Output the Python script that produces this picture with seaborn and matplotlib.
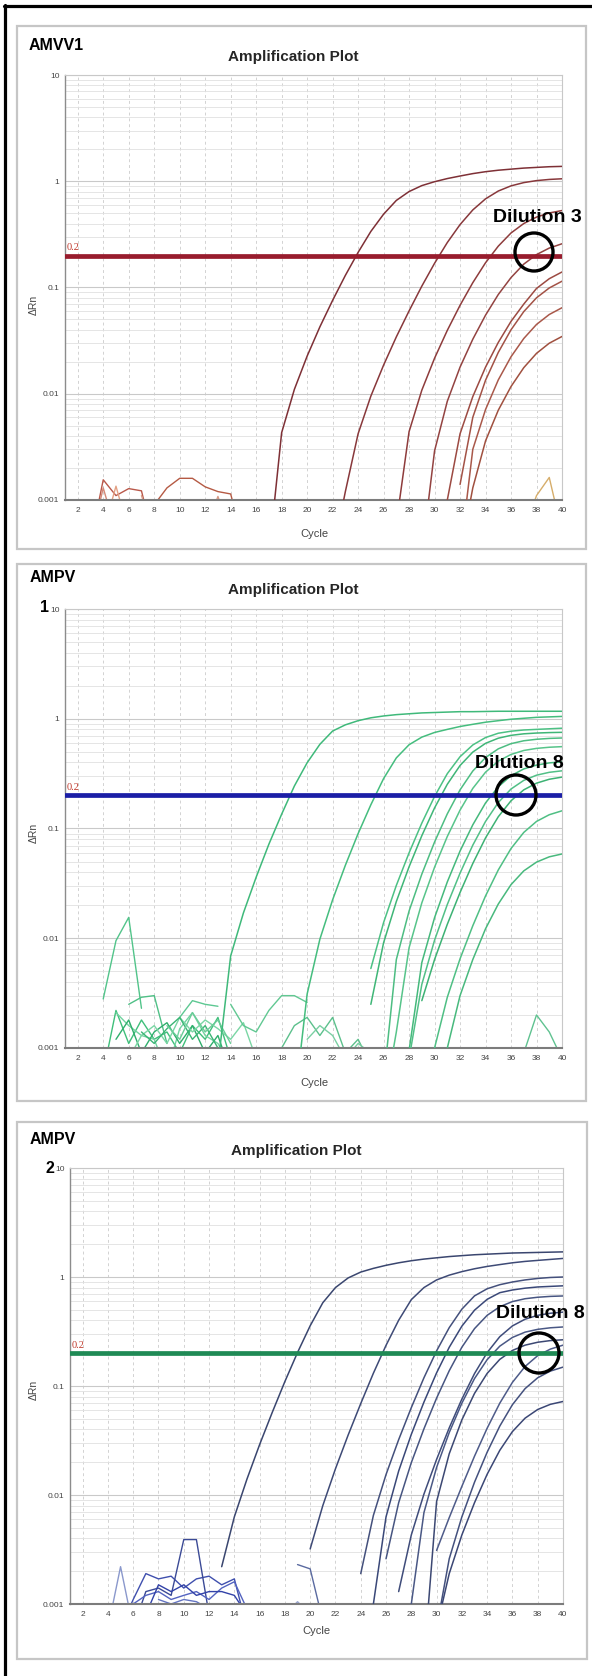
import matplotlib
matplotlib.use("Agg")
import matplotlib.pyplot as plt
import seaborn as sns
import pandas as pd
from matplotlib.patches import Rectangle, Circle
from matplotlib.lines import Line2D
from matplotlib.ticker import FixedLocator, FixedFormatter, LogLocator, NullFormatter

# ---------------- data (ΔRn read per cycle) ----------------
Y_TICKS = [0.001, 0.01, 0.1, 1, 10]
Y_TICK_LABELS = ["0.001", "0.01", "0.1", "1", "10"]
X_TICKS = list(range(2, 41, 2))
THRESHOLD = 0.2

# Panel 1 : AMVV1 amplification curves (first cycle of each list)
P1_STARTS = [17, 22, 27, 29, 30, 32, 32, 32]
P1_A = [0.0003, 0.0043, 0.011, 0.0226, 0.0426, 0.0757, 0.130, 0.214, 0.337, 0.49, 0.66, 0.80,
        0.91, 0.99, 1.06, 1.12, 1.18, 1.23, 1.27, 1.30, 1.33, 1.35, 1.37, 1.38]
P1_B = [0.0003, 0.0012, 0.0042, 0.0095, 0.0186, 0.0343, 0.0602, 0.103, 0.169, 0.265, 0.391,
        0.537, 0.683, 0.809, 0.905, 0.971, 1.014, 1.040, 1.055]
P1_C = [0.0006, 0.0044, 0.0108, 0.0216, 0.0395, 0.068, 0.111, 0.171, 0.245, 0.326, 0.40, 0.46, 0.503, 0.53]
P1_D = [0.0003, 0.0029, 0.0085, 0.0178, 0.0326, 0.0549, 0.0859, 0.124, 0.166, 0.204, 0.235, 0.258]
P1_E = [0.0003, 0.001, 0.0042, 0.0094, 0.0178, 0.0304, 0.048, 0.0698, 0.098, 0.121, 0.14]
P1_F = [0.0014, 0.006, 0.0134, 0.0245, 0.040, 0.0593, 0.080, 0.099, 0.1146]
P1_G = [0.0003, 0.003, 0.0071, 0.0135, 0.0223, 0.0331, 0.0449, 0.0557, 0.0645]
P1_H = [0.0003, 0.0013, 0.0036, 0.007, 0.0117, 0.0176, 0.024, 0.0299, 0.0346]
# Panel 1 : background noise traces
P1_NOISE_STARTS = [3, 3, 4, 8, 7, 12, 37]
P1_N1 = [0.0004, 0.00155, 0.0011, 0.00128, 0.00122, 0.0004]
P1_N2 = [0.0004, 0.0013, 0.0005]
P1_N3 = [0.0005, 0.00135, 0.0005]
P1_N4 = [0.0009, 0.0013, 0.0016, 0.0016, 0.00133, 0.0012, 0.00114, 0.0004]
P1_N5 = [0.0011, 0.0005, 0.001]
P1_N6 = [0.0005, 0.00108, 0.0005]
P1_N7 = [0.0005, 0.0011, 0.00163, 0.0005]

# Panel 2 : AMPV1
P2_STARTS = [13, 19, 25, 25, 26, 26, 27, 28, 29, 30, 31]
P2_G1 = [0.0007, 0.0069, 0.017, 0.036, 0.072, 0.135, 0.244, 0.397, 0.585, 0.773, 0.88, 0.96, 1.02,
         1.06, 1.09, 1.11, 1.13, 1.14, 1.15, 1.16, 1.16, 1.165, 1.17, 1.17, 1.17, 1.17, 1.17, 1.17]
P2_G2 = [0.0003, 0.0031, 0.0098, 0.0224, 0.0462, 0.0898, 0.1645, 0.285, 0.44, 0.58, 0.68, 0.75,
         0.80, 0.85, 0.89, 0.93, 0.96, 0.99, 1.01, 1.03, 1.04, 1.05]
P2_G3 = [0.0053, 0.0139, 0.0303, 0.060, 0.112, 0.196, 0.316, 0.451, 0.577, 0.674, 0.738, 0.77, 0.79, 0.80, 0.81, 0.82]
P2_G4 = [0.0025, 0.0091, 0.0216, 0.0448, 0.086, 0.154, 0.253, 0.375, 0.497, 0.597, 0.665, 0.706, 0.729, 0.741, 0.748, 0.752]
P2_G5 = [0.0005, 0.0064, 0.0177, 0.0384, 0.0753, 0.136, 0.225, 0.334, 0.443, 0.532, 0.593, 0.630, 0.650, 0.662, 0.668]
P2_G6 = [0.0003, 0.0014, 0.0082, 0.021, 0.0444, 0.0846, 0.147, 0.232, 0.326, 0.411, 0.473, 0.514, 0.537, 0.550, 0.557]
P2_G7 = [0.0003, 0.00095, 0.006, 0.0154, 0.0326, 0.0623, 0.108, 0.171, 0.240, 0.303, 0.349, 0.378, 0.396, 0.405]
P2_G8 = [0.0008, 0.0038, 0.0096, 0.0203, 0.0392, 0.0705, 0.116, 0.1725, 0.229, 0.2745, 0.306, 0.325, 0.3355]
P2_G9 = [0.0027, 0.0064, 0.0134, 0.0261, 0.048, 0.0821, 0.128, 0.179, 0.225, 0.259, 0.281, 0.294]
P2_G10 = [0.001, 0.0029, 0.0065, 0.013, 0.0243, 0.0419, 0.0657, 0.0921, 0.116, 0.1335, 0.145]
P2_G11 = [0.001, 0.003, 0.0064, 0.0122, 0.0205, 0.0308, 0.0411, 0.0494, 0.0552, 0.0586]
P2_NOISE_STARTS = [4, 4, 5, 6, 10, 5, 6, 14, 17, 20, 37, 7, 9]
P2_N1 = [0.0028, 0.0095, 0.0155, 0.0023]
P2_N2 = [0.0006, 0.0022, 0.0011, 0.0018, 0.0012, 0.0014, 0.0009, 0.0016, 0.0012, 0.0019, 0.0008]
P2_N3 = [0.0021, 0.0016, 0.0013, 0.0012, 0.0006, 0.0015, 0.0021, 0.0013, 0.0011, 0.0007]
P2_N4 = [0.0025, 0.0029, 0.003, 0.0011]
P2_N5 = [0.0019, 0.0027, 0.0025, 0.0024]
P2_N6 = [0.0012, 0.0018, 0.0009, 0.0014, 0.0017, 0.0011, 0.0016, 0.0009, 0.0013, 0.0006]
P2_N7 = [0.0008, 0.0013, 0.0016, 0.0011, 0.0019, 0.0014, 0.0018, 0.0015, 0.0012, 0.0017, 0.0008]
P2_N8 = [0.0025, 0.0016, 0.0014, 0.0022, 0.003, 0.003, 0.0026]
P2_N9 = [0.0008, 0.001, 0.0016, 0.0019, 0.0013, 0.0019, 0.0009, 0.0012, 0.0007]
P2_N10 = [0.0012, 0.0016, 0.0013, 0.0008, 0.0011, 0.0009]
P2_N11 = [0.0009, 0.002, 0.0014, 0.0008]
P2_N12 = [0.0014, 0.0011, 0.0015, 0.0019, 0.0012, 0.0016, 0.0010]
P2_N13 = [0.0016, 0.0012, 0.0021, 0.0014, 0.0018, 0.0011]

# Panel 3 : AMPV2
P3_STARTS = [13, 20, 24, 25, 26, 27, 27, 29, 30, 30, 30]
P3_B1 = [0.0022, 0.0063, 0.014, 0.029, 0.0573, 0.110, 0.203, 0.357, 0.581, 0.80, 0.98, 1.11, 1.20, 1.28,
         1.35, 1.41, 1.46, 1.50, 1.54, 1.57, 1.60, 1.62, 1.64, 1.66, 1.67, 1.68, 1.69, 1.70]
P3_B2 = [0.0032, 0.008, 0.0174, 0.0354, 0.069, 0.131, 0.236, 0.401, 0.62, 0.80, 0.94, 1.04, 1.12,
         1.19, 1.25, 1.30, 1.35, 1.39, 1.42, 1.45, 1.48]
P3_B3 = [0.0019, 0.0065, 0.0154, 0.0322, 0.0633, 0.119, 0.210, 0.343, 0.507, 0.671, 0.78, 0.85, 0.90, 0.94, 0.97, 0.99, 1.0]
P3_B4 = [0.001, 0.0063, 0.0166, 0.036, 0.0712, 0.132, 0.2265, 0.354, 0.496, 0.624, 0.718, 0.76, 0.79, 0.81, 0.82, 0.83]
P3_B5 = [0.0026, 0.0085, 0.0198, 0.0405, 0.0774, 0.138, 0.227, 0.336, 0.445, 0.534, 0.595, 0.632, 0.652, 0.664, 0.670]
P3_B6 = [0.0013, 0.0043, 0.0102, 0.0212, 0.0413, 0.0759, 0.130, 0.2025, 0.2835, 0.356, 0.410, 0.445, 0.465, 0.476]
P3_B7 = [0.0003, 0.001, 0.0069, 0.0179, 0.0374, 0.0696, 0.117, 0.1745, 0.232, 0.279, 0.312, 0.331, 0.342, 0.348]
P3_B8 = [0.0003, 0.0087, 0.0239, 0.0489, 0.0855, 0.1305, 0.1755, 0.212, 0.237, 0.252, 0.261, 0.2655]
P3_B9 = [0.0031, 0.0062, 0.012, 0.0227, 0.041, 0.0696, 0.108, 0.151, 0.190, 0.218, 0.237]
P3_B10 = [0.0006, 0.0026, 0.0063, 0.0131, 0.0247, 0.0429, 0.0674, 0.0946, 0.119, 0.137, 0.149]
P3_B11 = [0.0006, 0.0019, 0.0043, 0.0085, 0.0155, 0.0257, 0.0382, 0.0507, 0.0609, 0.0679, 0.0721]
P3_NOISE_STARTS = [4, 5, 6, 6, 7, 8, 19, 18]
P3_N1 = [0.0006, 0.0022, 0.0006]
P3_N2 = [0.0006, 0.0011, 0.0019, 0.0017, 0.0018, 0.0014, 0.0017, 0.0018, 0.0015, 0.0017, 0.0006]
P3_N3 = [0.0006, 0.0013, 0.0014, 0.0012, 0.0039, 0.0039, 0.0008]
P3_N4 = [0.001, 0.0012, 0.0013, 0.0011, 0.0012, 0.0013, 0.0011, 0.0014, 0.0016, 0.0009]
P3_N5 = [0.0008, 0.0015, 0.0013, 0.0015, 0.0012, 0.0013, 0.0013, 0.0012, 0.0008]
P3_N6 = [0.0011, 0.001, 0.0011, 0.00105, 0.0009]
P3_N7 = [0.0023, 0.0021, 0.0007]
P3_N8 = [0.0008, 0.00105, 0.0008]

# ---------------- styling ----------------
sns.set_theme(style="white")
SANS = ["Liberation Sans", "DejaVu Sans"]
plt.rcParams["font.family"] = SANS

W, H = 592, 1676
fig = plt.figure(figsize=(W / 100, H / 100), dpi=100)
fig.patch.set_facecolor("white")


def fx(x):
    return x / W


def fy(y):
    return 1 - y / H


def long_frame(starts, series, prefix):
    rows = []
    for i, (s, vals) in enumerate(zip(starts, series)):
        for k, v in enumerate(vals):
            rows.append({"curve": f"{prefix}{i}", "cycle": s + k, "drn": v})
    return pd.DataFrame(rows)


PANELS = [
    dict(box=(65, 75, 562, 500), frame=(17, 26, 586, 549),
         curves=(P1_STARTS, [P1_A, P1_B, P1_C, P1_D, P1_E, P1_F, P1_G, P1_H]),
         noise=(P1_NOISE_STARTS, [P1_N1, P1_N2, P1_N3, P1_N4, P1_N5, P1_N6, P1_N7]),
         ccols=["#7e3036", "#88383b", "#8e3c3c", "#934341", "#9c4a42", "#a35246", "#a9584a", "#a0503f"],
         ncols=["#b9584a", "#d48a78", "#e3a184", "#b55a44", "#d9a08a", "#d89a86", "#d6ad6a"],
         thr_col="#981c2d", title_xy=(293, 57), cycle_xy=(314, 534), drn_xy=(34, 305),
         labels=[("AMVV1", 29, 45, "left")], dil=("Dilution 3", 493, 218), circ=(534, 252, 19)),
    dict(box=(65, 609, 562, 1048), frame=(17, 564, 586, 1101),
         curves=(P2_STARTS, [P2_G1, P2_G2, P2_G3, P2_G4, P2_G5, P2_G6, P2_G7, P2_G8, P2_G9, P2_G10, P2_G11]),
         noise=(P2_NOISE_STARTS, [P2_N1, P2_N2, P2_N3, P2_N4, P2_N5, P2_N6, P2_N7, P2_N8, P2_N9, P2_N10,
                                  P2_N11, P2_N12, P2_N13]),
         ccols=["#3fb97a", "#45bd7e", "#4cc184", "#3fb677", "#4dbd82", "#57c48a", "#45b97c", "#52c087",
                "#3db274", "#4fbf84", "#48b97d"],
         ncols=["#52c48a", "#3fbf7a", "#72d3a0", "#4fc086", "#5dc892", "#2fae6c", "#7ad6a4", "#61c892",
                "#5cc08c", "#79cfa2", "#5fc290", "#3bb575", "#69cc97"],
         thr_col="#1b1ea6", title_xy=(293, 590), cycle_xy=(314, 1083), drn_xy=(34, 833),
         labels=[("AMPV", 30, 578, "left"), ("1", 49, 608, "right")], dil=("Dilution 8", 475, 763),
         circ=(516, 795, 20)),
    dict(box=(70, 1168, 563, 1604), frame=(17, 1122, 587, 1659),
         curves=(P3_STARTS, [P3_B1, P3_B2, P3_B3, P3_B4, P3_B5, P3_B6, P3_B7, P3_B8, P3_B9, P3_B10, P3_B11]),
         noise=(P3_NOISE_STARTS, [P3_N1, P3_N2, P3_N3, P3_N4, P3_N5, P3_N6, P3_N7, P3_N8]),
         ccols=["#3a466f", "#3e4a76", "#44507c", "#3a4878", "#475581", "#3f4c7a", "#4a5885", "#3c4873",
                "#4e5b89", "#44517e", "#3b4775"],
         ncols=["#8a98cc", "#3f4fae", "#3b4a96", "#5363c0", "#3242a8", "#6474c2", "#5a6aa0", "#9aa6d0"],
         thr_col="#1f8a55", title_xy=(296, 1151), cycle_xy=(316, 1631), drn_xy=(34, 1390),
         labels=[("AMPV", 30, 1139, "left"), ("2", 54, 1168, "right")], dil=("Dilution 8", 496, 1313),
         circ=(539, 1353, 20)),
]

for P in PANELS:
    # grey frame round each panel
    x0, y0, x1, y1 = P["frame"]
    fig.add_artist(Rectangle((fx(x0), fy(y1)), fx(x1) - fx(x0), fy(y0) - fy(y1),
                             transform=fig.transFigure, fill=False, ec="#c6c6c6", lw=1.6, zorder=0))
    l, t, r, b = P["box"]
    ax = fig.add_axes([fx(l), fy(b), fx(r) - fx(l), fy(t) - fy(b)])
    ax.set_yscale("log")
    ax.set_xlim(1, 40)
    ax.set_ylim(0.001, 10)

    ns, nv = P["noise"]
    dfn = long_frame(ns, nv, "n")
    sns.lineplot(data=dfn, x="cycle", y="drn", hue="curve", palette=P["ncols"], estimator=None,
                 legend=False, ax=ax, lw=1.0, zorder=2)
    cs, cv = P["curves"]
    dfc = long_frame(cs, cv, "c")
    sns.lineplot(data=dfc, x="cycle", y="drn", hue="curve", palette=P["ccols"], estimator=None,
                 legend=False, ax=ax, lw=1.1, zorder=3)

    ax.axhline(THRESHOLD, color=P["thr_col"], lw=3.4, zorder=4)
    ax.annotate("0.2", xy=(1.1, THRESHOLD), xytext=(0, 2.2), textcoords="offset points",
                ha="left", va="bottom", fontsize=7.5, color="#c0392b",
                family=["Liberation Serif", "DejaVu Serif"], zorder=5)

    ax.yaxis.set_major_locator(FixedLocator(Y_TICKS))
    ax.yaxis.set_major_formatter(FixedFormatter(Y_TICK_LABELS))
    ax.yaxis.set_minor_locator(LogLocator(base=10, subs=[2, 3, 4, 5, 6, 7, 8, 9]))
    ax.yaxis.set_minor_formatter(NullFormatter())
    ax.set_xticks(X_TICKS)
    ax.set_xticklabels([str(v) for v in X_TICKS])
    ax.tick_params(axis="both", which="major", labelsize=6, colors="#444444", length=2, width=0.6, pad=2)
    ax.tick_params(axis="x", which="major", pad=5, length=0)
    ax.tick_params(which="minor", length=0)
    ax.set_xlabel("")
    ax.set_ylabel("")

    ax.grid(True, which="major", axis="y", color="#c9c9c9", lw=0.8)
    ax.grid(True, which="minor", axis="y", color="#e1e1e1", lw=0.6)
    ax.grid(True, which="major", axis="x", color="#d2d2d2", lw=0.7, ls=(0, (3, 3)))
    ax.set_axisbelow(True)
    for side in ["top", "right"]:
        ax.spines[side].set_color("#c8c8c8")
        ax.spines[side].set_linewidth(0.8)
    ax.spines["left"].set_color("#8c8c8c")
    ax.spines["left"].set_linewidth(1.0)
    ax.spines["bottom"].set_color("#7c7c7c")
    ax.spines["bottom"].set_linewidth(1.5)

    tx, ty = P["title_xy"]
    fig.text(fx(tx), fy(ty), "Amplification Plot", ha="center", va="center", fontsize=11,
             fontweight="bold", color="#262626")
    cx, cy = P["cycle_xy"]
    fig.text(fx(cx), fy(cy), "Cycle", ha="center", va="center", fontsize=8, color="#444444")
    dx, dy = P["drn_xy"]
    fig.text(fx(dx), fy(dy), "ΔRn", ha="center", va="center", fontsize=7.5, rotation=90,
             color="#444444")
    for txt, lx, ly, ha in P["labels"]:
        fig.text(fx(lx), fy(ly), txt, fontsize=11.5, fontweight="bold", color="black",
                 ha=ha, va="center", zorder=10)
    dtxt, dlx, dly = P["dil"]
    fig.text(fx(dlx), fy(dly), dtxt, ha="left", va="center", fontsize=14, fontweight="bold",
             color="black", zorder=10)
    ccx, ccy, cr = P["circ"]
    fig.add_artist(Circle((ccx / 100, (H - ccy) / 100), cr / 100, transform=fig.dpi_scale_trans,
                          fill=False, ec="black", lw=2.4, zorder=10))

# black border (left and top)
fig.add_artist(Line2D([fx(4.5), fx(4.5)], [fy(5), fy(H)], transform=fig.transFigure,
                      color="black", lw=2.3))
fig.add_artist(Line2D([fx(3.5), fx(W)], [fy(6), fy(6)], transform=fig.transFigure,
                      color="black", lw=2.3))

fig.savefig("out.png", dpi=100, facecolor="white")
